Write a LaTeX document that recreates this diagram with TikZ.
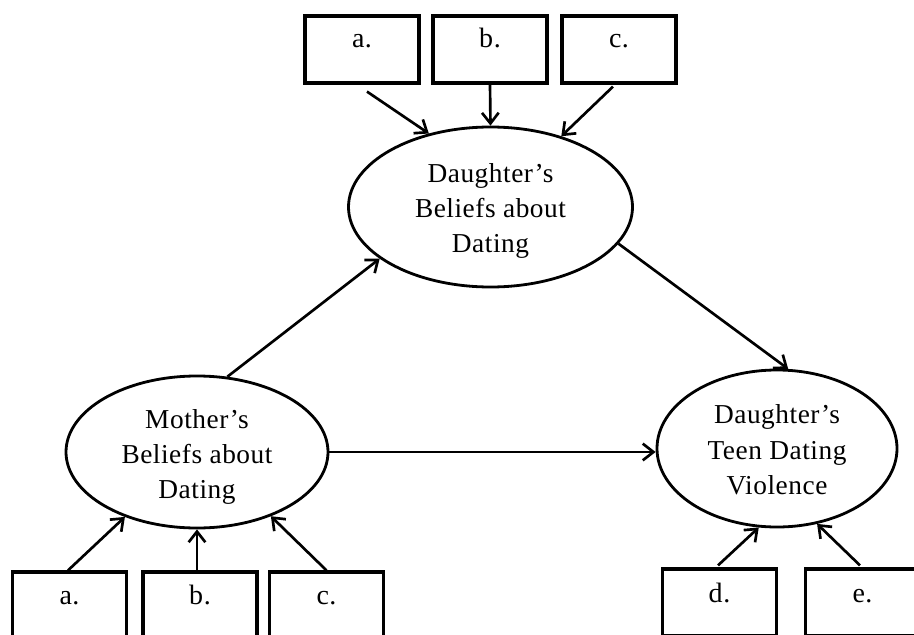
\documentclass[tikz,border=0pt]{standalone}
\usepackage{fontspec}
\setmainfont[LetterSpace=2]{Liberation Serif}
\usetikzlibrary{arrows.meta,shapes.geometric,calc}
\begin{document}
\begin{tikzpicture}[x=0.75pt,y=-0.75pt,
  boxnode/.style={draw,line width=2.4pt,minimum width=114*0.75pt,minimum height=67*0.75pt,inner sep=0pt},
  ellnode/.style={draw,ellipse,line width=2.1pt,inner sep=0pt},
  txt/.style={font=\fontsize{20.5}{26.5}\selectfont,align=center,inner sep=0pt},
  lbl/.style={font=\fontsize{21}{26.5}\selectfont,inner sep=0pt,anchor=base},
  conn/.style={line width=2pt,-{Straight Barb[length=8pt,width=12.5pt,line width=2pt]}}]
\useasboundingbox (0,0) rectangle (914,635);
\clip (0,0) rectangle (914,635);
\fill[white] (0,0) rectangle (914,635);
% top boxes
\node[boxnode] (ta) at (362,49.5) {};
\node[boxnode] (tb) at (490,49.5) {};
\node[boxnode] (tc) at (619,49.5) {};
\node[lbl] (tal) at (362,48) {a.};
\node[lbl] (tbl) at (490,48) {b.};
\node[lbl] (tcl) at (619,48) {c.};
% bottom boxes
\node[boxnode] (ba) at (69.5,605.5) {};
\node[boxnode] (bb) at (200,605.5) {};
\node[boxnode] (bc) at (326.5,605.5) {};
\node[boxnode] (bd) at (719.5,602.5) {};
\node[boxnode] (be) at (862.5,602.5) {};
\node[lbl] (bal) at (69.5,604) {a.};
\node[lbl] (bbl) at (200,604) {b.};
\node[lbl] (bcl) at (326.5,604) {c.};
\node[lbl] (bdl) at (719.5,602) {d.};
\node[lbl] (bel) at (862.5,602) {e.};
% ellipses
\node[ellnode,minimum width=284*0.75pt,minimum height=160*0.75pt] (db) at (490.5,207) {};
\node[ellnode,minimum width=262*0.75pt,minimum height=152*0.75pt] (mb) at (197,452) {};
\node[ellnode,minimum width=240*0.75pt,minimum height=157*0.75pt] (dtv) at (777,448.5) {};
\node[txt] (dbt) at (490.5,211) {Daughter’s\\Beliefs about\\Dating};
\node[txt] (mbt) at (197,457) {Mother’s\\Beliefs about\\Dating};
\node[txt] (dtvt) at (777,450) {Daughter’s\\Teen Dating\\Violence};
% connectors
\draw[conn] ($(ta.south)+(5,7)$) -- (db.130);
\draw[conn] (tb.south) -- (db.90);
\draw[conn] ($(tc.south)+(-6,2)$) -- (db.45);
\draw[conn] (mb.68) -- (db.205);
\draw[conn] (db.344) -- (dtv.82);
\draw[conn] (mb.east) -- (mb.east -| dtv.west);
\draw[conn] ($(ba.north)+(-1.5,0)$) -- (mb.222);
\draw[conn] (bb.north -| mb.south) -- (mb.south);
\draw[conn] (bc.north) -- (mb.319);
\draw[conn] ($(bd.north)+(-1.5,-2)$) -- (dtv.257);
\draw[conn] ($(be.north)+(-2.5,-2)$) -- (dtv.298);
\end{tikzpicture}
\end{document}
